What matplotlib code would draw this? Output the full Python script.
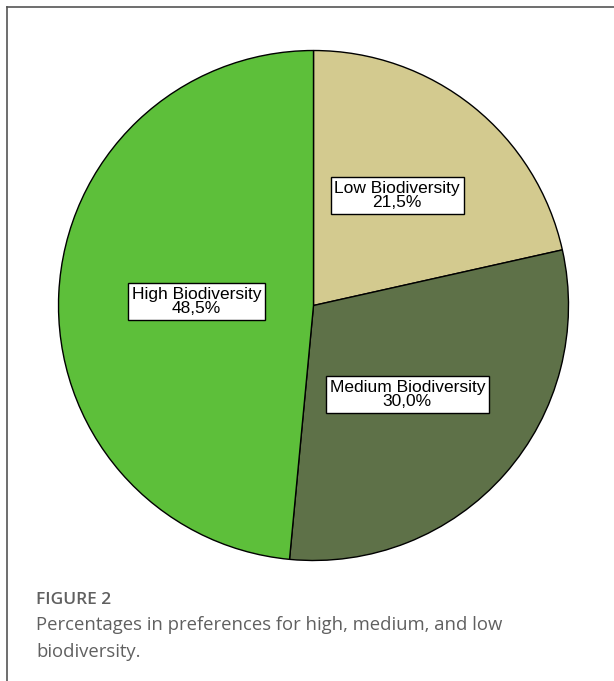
import numpy as np
import matplotlib
matplotlib.use("Agg")
import matplotlib.pyplot as plt
from matplotlib.lines import Line2D

categories = ["Low Biodiversity", "Medium Biodiversity", "High Biodiversity"]
percent = [21.5, 30.0, 48.5]
colors = ["#D3CA8F", "#5E7148", "#5DBF3A"]

W, H = 614, 681
fig = plt.figure(figsize=(W / 100, H / 100), dpi=100)

# pie area: centre (313.5, 305.5) px, radius 255.5 px
cx, cy, r = 313.5, 305.5, 255.5
ax = fig.add_axes([(cx - r) / W, 1 - (cy + r) / H, 2 * r / W, 2 * r / H])
wedges, _ = ax.pie(percent, colors=colors, startangle=90, counterclock=False,
                   radius=1.0, wedgeprops=dict(edgecolor="black", linewidth=1.0))
ax.set_xlim(-1.002, 1.002)
ax.set_ylim(-1.002, 1.002)
ax.set_aspect("equal")
ax.axis("off")

# label radius and small horizontal nudge per wedge
label_r = [0.56, 0.52, 0.46]
label_dx = [-0.022, -0.022, 0.0]

start = 90.0
for name, val, rr, dx in zip(categories, percent, label_r, label_dx):
    span = val * 3.6
    mid = np.deg2rad(start - span / 2)
    start -= span
    txt = f"{name}\n{val:.1f}%".replace(".", ",")
    ax.text(rr * np.cos(mid) + dx, rr * np.sin(mid) - 0.005, txt,
            ha="center", va="center",
            fontsize=12.5, family="Liberation Sans", linespacing=0.95,
            bbox=dict(boxstyle="square,pad=0.22", facecolor="white",
                      edgecolor="black", linewidth=1.0))

# panel frame (left and top edges)
fig.add_artist(Line2D([7 / W, 7 / W], [0, 1 - 7 / H], transform=fig.transFigure,
                      color="#555555", linewidth=1.2))
fig.add_artist(Line2D([7 / W, 1], [1 - 7 / H, 1 - 7 / H], transform=fig.transFigure,
                      color="#555555", linewidth=1.2))

fig.text(36 / W, 1 - 600 / H, "FIGURE 2", fontsize=12.5, color="#606060",
         family="Open Sans", weight="semibold", va="center", ha="left")
fig.text(36 / W, 1 - 625 / H, "Percentages in preferences for high, medium, and low",
         fontsize=13.3, color="#606060", family="Open Sans", va="center", ha="left")
fig.text(36 / W, 1 - 652 / H, "biodiversity.",
         fontsize=13.3, color="#606060", family="Open Sans", va="center", ha="left")

fig.savefig("out.png", dpi=100)
